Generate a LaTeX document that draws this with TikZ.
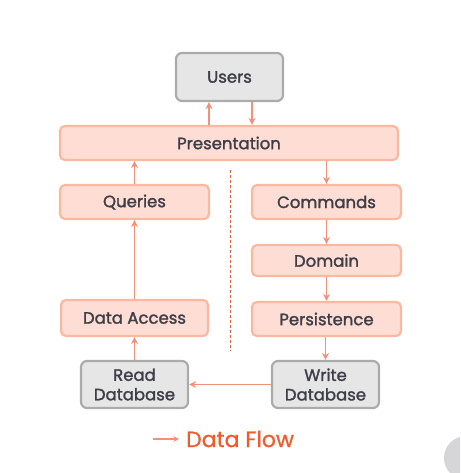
\documentclass[tikz,border=0pt]{standalone}
\usepackage{fontspec}
\setmainfont{Poppins}
\newfontfamily\labfont{Poppins}[FakeBold=1.6]
\newfontfamily\legfont{Poppins}[FakeBold=0.8]
\usetikzlibrary{arrows.meta}
\definecolor{pinkfill}{HTML}{FDDDD4}
\definecolor{pinkdraw}{HTML}{F9B8A0}
\definecolor{arrowc}{HTML}{F4907A}
\definecolor{grayfill}{HTML}{E6E6E6}
\definecolor{graydraw}{HTML}{ABABAB}
\definecolor{textc}{HTML}{3E3E48}
\definecolor{legendc}{HTML}{F15A2B}
\definecolor{dashc}{HTML}{E0603A}
\definecolor{iconc}{HTML}{D6D6D8}
\begin{document}
\begin{tikzpicture}[x=1pt,y=-1pt,
  layer/.style={draw=pinkdraw,fill=pinkfill,line width=2.2pt,rounded corners=5pt,
    inner sep=0pt,text=textc,font=\labfont\fontsize{16.5}{18}\selectfont},
  store/.style={draw=graydraw,fill=grayfill,line width=2.2pt,rounded corners=6pt,
    inner sep=0pt,text=textc,align=center,font=\labfont\fontsize{16.5}{19.5}\selectfont},
  flow/.style={draw=arrowc,line width=1.8pt,-{Stealth[length=7pt,width=7pt]}}]
\useasboundingbox (0,0) rectangle (460,473);
\fill[white] (0,0) rectangle (460,473);
\begin{scope}
\clip (0,0) rectangle (460,473);
\fill[iconc] (466,458) circle (22);
\end{scope}
\node[store,minimum width=107pt,minimum height=48pt] (users) at (229.5,77) {Users};
\node[layer,minimum width=338pt,minimum height=34pt] (pres) at (229,143) {Presentation};
\node[layer,minimum width=149pt,minimum height=34pt] (queries) at (134.5,202) {Queries};
\node[layer,minimum width=149pt,minimum height=34pt] (commands) at (326.5,202) {Commands};
\node[layer,minimum width=149pt,minimum height=31pt] (domain) at (326.5,260.5) {Domain};
\node[layer,minimum width=149pt,minimum height=34pt] (persist) at (326.5,319) {Persistence};
\node[layer,minimum width=147pt,minimum height=36pt] (access) at (134.5,318) {Data Access};
\node[store,minimum width=107pt,minimum height=47pt] (readdb) at (134.5,384.5) {Read\\Database};
\node[store,minimum width=107pt,minimum height=47pt] (writedb) at (325.5,384.5) {Write\\Database};
\coordinate (dashtop) at (230,170);
\coordinate (dashbot) at (230,351);
\draw[dashc,line width=1pt,dash pattern=on 3pt off 2pt] (dashtop) -- (dashbot);
\draw[flow] ([xshift=-20.5pt]users.south |- pres.north) -- ([xshift=-20.5pt]users.south);
\draw[flow] ([xshift=22.5pt]users.south) -- ([xshift=22.5pt]users.south |- pres.north);
\draw[flow] (queries.north) -- (queries.north |- pres.south);
\draw[flow] (pres.south -| commands.north) -- (commands.north);
\draw[flow] (commands.south) -- (domain.north);
\draw[flow] (domain.south) -- (persist.north);
\draw[flow] ([xshift=-1pt]persist.south) -- ([xshift=-1pt]persist.south |- writedb.north);
\draw[flow] (writedb.west) -- (readdb.east);
\draw[flow] (readdb.north) -- (access.south);
\draw[flow] (access.north) -- (queries.south);
\coordinate (legA) at (153,439);
\coordinate (legB) at (179,439);
\draw[flow,-{Stealth[length=5.5pt,width=5.5pt]},line width=1.4pt] (legA) -- (legB);
\node[anchor=west,inner sep=0pt,text=legendc,font=\legfont\fontsize{22}{24}\selectfont] (legend) at (186,439) {Data Flow};
\end{tikzpicture}
\end{document}
